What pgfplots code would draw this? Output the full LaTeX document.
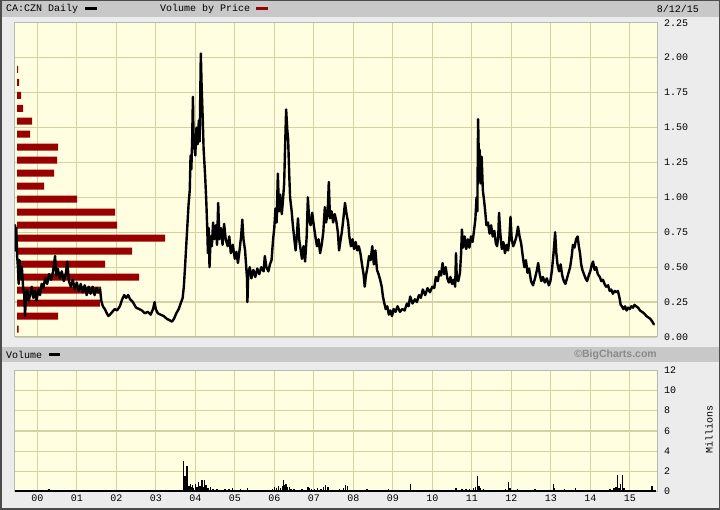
\documentclass[border=0pt]{standalone}
\usepackage{fontspec}
\setmainfont{Liberation Mono}
\newfontfamily\bcsans{Liberation Sans}
\usepackage{pgfplots}
\pgfplotsset{compat=1.18}
\definecolor{plotbg}{HTML}{FFFEE0}
\definecolor{gridc}{HTML}{D4D1A2}
\definecolor{outerbg}{HTML}{ECECEC}
\definecolor{hdr}{HTML}{C8C8C8}
\definecolor{vbpred}{HTML}{990000}
\definecolor{bcgray}{HTML}{8A8A8A}

\pgfplotstableread{
t p
1999.44 0.80
1999.45 0.62
1999.47 0.78
1999.49 0.58
1999.51 0.50
1999.53 0.38
1999.55 0.55
1999.58 0.42
1999.61 0.50
1999.64 0.36
1999.67 0.30
1999.69 0.15
1999.71 0.28
1999.74 0.34
1999.78 0.26
1999.82 0.30
1999.86 0.36
1999.90 0.28
1999.94 0.33
1999.98 0.26
2000.03 0.34
2000.07 0.30
2000.11 0.38
2000.15 0.35
2000.20 0.42
2000.25 0.38
2000.30 0.45
2000.35 0.41
2000.40 0.47
2000.45 0.58
2000.48 0.44
2000.52 0.49
2000.57 0.42
2000.62 0.47
2000.67 0.40
2000.72 0.45
2000.76 0.54
2000.80 0.40
2000.85 0.36
2000.90 0.41
2000.95 0.34
2001.00 0.39
2001.05 0.33
2001.10 0.38
2001.15 0.32
2001.20 0.37
2001.25 0.30
2001.30 0.36
2001.35 0.31
2001.40 0.36
2001.45 0.30
2001.50 0.35
2001.55 0.32
2001.59 0.34
2001.62 0.26
2001.66 0.22
2001.71 0.20
2001.76 0.17
2001.80 0.15
2001.84 0.16
2001.90 0.18
2001.96 0.20
2002.02 0.19
2002.09 0.22
2002.15 0.27
2002.20 0.30
2002.25 0.28
2002.30 0.30
2002.35 0.27
2002.42 0.25
2002.50 0.21
2002.58 0.20
2002.65 0.19
2002.72 0.17
2002.80 0.18
2002.87 0.16
2002.93 0.20
2002.97 0.25
2003.00 0.20
2003.05 0.17
2003.12 0.16
2003.20 0.15
2003.28 0.13
2003.35 0.12
2003.41 0.11
2003.46 0.13
2003.52 0.17
2003.58 0.20
2003.63 0.24
2003.68 0.28
2003.71 0.36
2003.74 0.50
2003.77 0.65
2003.80 0.80
2003.83 0.95
2003.86 1.05
2003.88 1.30
2003.90 1.20
2003.92 1.40
2003.94 1.72
2003.96 1.35
2003.98 1.45
2004.00 1.30
2004.03 1.50
2004.06 1.38
2004.09 1.55
2004.11 1.40
2004.14 2.03
2004.16 1.80
2004.19 1.55
2004.21 1.35
2004.23 1.25
2004.25 1.15
2004.28 0.96
2004.30 0.80
2004.32 0.60
2004.34 0.78
2004.36 0.50
2004.39 0.72
2004.42 0.65
2004.45 0.82
2004.48 0.70
2004.52 0.80
2004.55 0.66
2004.58 0.96
2004.61 0.70
2004.65 0.78
2004.69 0.66
2004.73 0.81
2004.77 0.70
2004.82 0.65
2004.86 0.72
2004.90 0.60
2004.95 0.66
2005.00 0.56
2005.04 0.61
2005.08 0.53
2005.12 0.62
2005.16 0.72
2005.19 0.84
2005.22 0.70
2005.26 0.62
2005.29 0.50
2005.31 0.42
2005.32 0.25
2005.34 0.45
2005.38 0.50
2005.42 0.42
2005.47 0.48
2005.52 0.43
2005.57 0.49
2005.62 0.45
2005.67 0.50
2005.73 0.47
2005.76 0.58
2005.80 0.50
2005.85 0.47
2005.89 0.52
2005.93 0.55
2005.97 0.70
2006.00 0.78
2006.03 0.92
2006.06 0.82
2006.09 1.17
2006.12 0.90
2006.15 1.02
2006.19 0.88
2006.22 0.98
2006.25 1.10
2006.27 1.32
2006.30 1.63
2006.33 1.48
2006.35 1.42
2006.38 1.15
2006.40 1.00
2006.44 0.90
2006.47 0.80
2006.50 0.72
2006.54 0.62
2006.57 0.72
2006.60 0.85
2006.63 0.70
2006.67 0.62
2006.70 0.56
2006.74 0.65
2006.78 0.54
2006.82 0.72
2006.85 1.00
2006.88 0.85
2006.92 0.80
2006.96 0.89
2007.00 0.80
2007.04 0.72
2007.08 0.65
2007.12 0.70
2007.16 0.60
2007.20 0.66
2007.24 0.75
2007.28 0.93
2007.31 0.82
2007.35 0.88
2007.38 1.11
2007.41 0.85
2007.45 0.90
2007.49 0.82
2007.53 0.88
2007.57 0.83
2007.61 0.75
2007.64 0.62
2007.67 0.68
2007.71 0.75
2007.75 0.85
2007.79 0.96
2007.83 0.88
2007.87 0.82
2007.90 0.72
2007.94 0.65
2007.98 0.70
2008.02 0.63
2008.06 0.68
2008.10 0.62
2008.14 0.65
2008.18 0.60
2008.22 0.52
2008.26 0.45
2008.29 0.36
2008.32 0.44
2008.36 0.50
2008.40 0.58
2008.44 0.55
2008.48 0.65
2008.52 0.52
2008.56 0.62
2008.60 0.48
2008.64 0.45
2008.68 0.41
2008.72 0.36
2008.75 0.29
2008.78 0.25
2008.82 0.20
2008.86 0.22
2008.90 0.16
2008.94 0.19
2008.98 0.15
2009.02 0.20
2009.07 0.18
2009.12 0.22
2009.18 0.18
2009.24 0.20
2009.30 0.19
2009.36 0.24
2009.40 0.22
2009.44 0.29
2009.50 0.24
2009.56 0.27
2009.61 0.25
2009.66 0.30
2009.71 0.28
2009.76 0.34
2009.82 0.30
2009.88 0.35
2009.94 0.32
2010.00 0.36
2010.05 0.35
2010.09 0.43
2010.14 0.40
2010.18 0.47
2010.22 0.44
2010.26 0.53
2010.30 0.45
2010.34 0.50
2010.38 0.42
2010.42 0.39
2010.46 0.43
2010.50 0.38
2010.54 0.41
2010.58 0.36
2010.60 0.60
2010.62 0.42
2010.66 0.40
2010.70 0.46
2010.73 0.60
2010.75 0.77
2010.78 0.64
2010.82 0.72
2010.86 0.63
2010.90 0.70
2010.94 0.64
2010.98 0.72
2011.02 0.68
2011.06 0.77
2011.09 0.84
2011.12 1.00
2011.14 0.90
2011.16 1.56
2011.18 1.25
2011.20 1.34
2011.22 1.10
2011.25 1.29
2011.28 1.05
2011.31 0.98
2011.34 0.90
2011.37 0.80
2011.41 0.82
2011.45 0.74
2011.49 0.80
2011.53 0.72
2011.57 0.76
2011.61 0.67
2011.64 0.65
2011.67 0.72
2011.69 0.89
2011.72 0.75
2011.76 0.63
2011.80 0.68
2011.84 0.60
2011.88 0.66
2011.92 0.62
2011.95 0.70
2011.98 0.86
2012.01 0.70
2012.05 0.65
2012.09 0.68
2012.13 0.72
2012.17 0.79
2012.21 0.72
2012.25 0.67
2012.29 0.58
2012.33 0.50
2012.37 0.55
2012.41 0.46
2012.45 0.49
2012.50 0.40
2012.55 0.37
2012.60 0.42
2012.65 0.48
2012.68 0.53
2012.72 0.45
2012.76 0.40
2012.80 0.43
2012.85 0.39
2012.90 0.42
2012.95 0.37
2012.99 0.40
2013.03 0.48
2013.07 0.60
2013.11 0.75
2013.14 0.60
2013.17 0.52
2013.21 0.47
2013.25 0.52
2013.29 0.44
2013.33 0.40
2013.37 0.38
2013.41 0.42
2013.45 0.46
2013.49 0.50
2013.53 0.58
2013.56 0.66
2013.60 0.64
2013.64 0.70
2013.68 0.72
2013.71 0.65
2013.74 0.60
2013.77 0.52
2013.80 0.48
2013.84 0.45
2013.88 0.42
2013.92 0.40
2013.96 0.44
2014.00 0.47
2014.04 0.52
2014.07 0.54
2014.11 0.48
2014.15 0.50
2014.19 0.45
2014.24 0.43
2014.28 0.40
2014.32 0.41
2014.36 0.38
2014.40 0.36
2014.45 0.37
2014.49 0.33
2014.53 0.34
2014.57 0.31
2014.62 0.33
2014.66 0.32
2014.70 0.33
2014.74 0.28
2014.77 0.23
2014.80 0.22
2014.84 0.20
2014.88 0.22
2014.92 0.19
2014.96 0.21
2015.00 0.20
2015.04 0.22
2015.08 0.21
2015.12 0.23
2015.16 0.22
2015.21 0.21
2015.26 0.19
2015.31 0.18
2015.36 0.17
2015.42 0.15
2015.47 0.14
2015.52 0.13
2015.57 0.11
2015.61 0.09
}\pricedata

\pgfplotstableread{
v p
1 1.917
2 1.824
4 1.731
6 1.638
15 1.545
13 1.452
41 1.359
40 1.266
37 1.173
27 1.080
60 0.987
98 0.894
100 0.801
148 0.708
115 0.615
88 0.522
122 0.429
84 0.336
83 0.243
41 0.150
1.5 0.057
}\vbpdata

\pgfplotstableread{
t v
2000.20 0.15
2000.30 0.25
2000.38 0.2
2000.55 0.1
2003.70 3.0
2003.72 1.15
2003.74 1.55
2003.76 0.8
2003.79 2.5
2003.81 0.9
2003.84 0.6
2003.87 0.8
2003.90 0.5
2003.93 0.7
2003.96 0.4
2004.00 0.8
2004.04 0.5
2004.09 1.0
2004.12 0.6
2004.17 1.15
2004.20 0.45
2004.23 1.15
2004.27 0.7
2004.32 0.35
2004.38 0.5
2004.45 0.25
2004.55 0.3
2004.65 0.2
2004.75 0.3
2004.85 0.25
2004.95 0.35
2005.05 0.2
2005.15 0.3
2005.25 0.2
2005.33 0.35
2005.45 0.15
2005.55 0.1
2005.70 0.15
2005.85 0.2
2005.95 0.3
2006.00 0.45
2006.05 0.35
2006.10 0.55
2006.15 0.4
2006.20 0.6
2006.23 1.15
2006.26 0.7
2006.30 0.8
2006.34 0.5
2006.38 0.45
2006.42 0.3
2006.50 0.25
2006.60 0.2
2006.70 0.3
2006.78 0.2
2006.85 0.45
2006.90 0.35
2006.95 0.3
2007.02 0.25
2007.10 0.4
2007.18 0.3
2007.25 0.5
2007.30 0.7
2007.36 0.45
2007.45 0.2
2007.55 0.15
2007.65 0.25
2007.75 0.35
2007.80 0.7
2007.85 0.6
2007.92 0.2
2008.05 0.15
2008.20 0.2
2008.35 0.3
2008.50 0.15
2008.70 0.2
2008.90 0.25
2009.00 0.2
2009.15 0.15
2009.30 0.2
2009.44 0.75
2009.55 0.15
2009.70 0.1
2009.85 0.2
2010.00 0.15
2010.15 0.2
2010.30 0.15
2010.45 0.2
2010.60 0.35
2010.75 0.3
2010.85 0.25
2010.95 0.3
2011.05 0.35
2011.10 0.45
2011.15 1.55
2011.18 0.6
2011.22 0.4
2011.30 0.3
2011.40 0.2
2011.55 0.15
2011.70 0.2
2011.85 0.25
2011.93 1.0
2011.97 0.35
2012.05 0.2
2012.15 0.3
2012.30 0.15
2012.45 0.2
2012.60 0.25
2012.75 0.2
2012.90 0.15
2013.06 0.8
2013.10 0.35
2013.20 0.2
2013.35 0.25
2013.50 0.2
2013.62 0.35
2013.75 0.2
2013.90 0.15
2014.05 0.2
2014.20 0.15
2014.35 0.2
2014.50 0.25
2014.60 0.35
2014.65 0.5
2014.69 1.6
2014.73 0.4
2014.77 0.8
2014.81 1.65
2014.85 0.35
2014.95 0.2
2015.10 0.15
2015.25 0.2
2015.40 0.15
2015.56 0.55
2015.62 0.2
}\voldata

\begin{document}
\begin{tikzpicture}[x=1pt,y=1pt]
\fill[outerbg] (0,0) rectangle (720,510);
\fill[hdr] (1.5,493) rectangle (718.5,508.5);
\fill[hdr] (1.5,148) rectangle (718.5,163);
\draw[gray!60!black, line width=1.5pt] (0.75,0.75) rectangle (719.25,509.25);
% header texts
\node[anchor=west, inner sep=0pt, font=\fontsize{10}{10}\selectfont] at (6,501) {CA:CZN Daily};
\fill[black] (85,499.5) rectangle (97,502.5);
\node[anchor=west, inner sep=0pt, font=\fontsize{10}{10}\selectfont] at (160,501) {Volume by Price};
\fill[vbpred] (256,499.5) rectangle (268,502.5);
\node[anchor=east, inner sep=0pt, font=\fontsize{10}{10}\selectfont] at (699,501) {8/12/15};
\node[anchor=west, inner sep=0pt, font=\fontsize{10}{10}\selectfont] at (6,155.5) {Volume};
\fill[black] (49,154) rectangle (60,157);
\node[anchor=east, inner sep=0pt, text=bcgray, font=\bcsans\bfseries\fontsize{10.5}{10.5}\selectfont] at (657,155.5) {©BigCharts.com};
\node[rotate=90, inner sep=0pt, font=\fontsize{10}{10}\selectfont] at (709,80) {Millions};

\pgfplotsset{
  panel/.style={
    anchor=south west, scale only axis, width=642.5pt,
    xmin=1999.423, xmax=2015.689,
  },
}
% price panel: background and grid
\begin{axis}[panel, at={(14.5pt,173pt)}, height=314.2pt,
  ymin=0, ymax=2.25,
  axis background/.style={fill=plotbg},
  grid=major, grid style={gridc, line width=1.2pt},
  xtick={2000,2001,2002,2003,2004,2005,2006,2007,2008,2009,2010,2011,2012,2013,2014,2015},
  xticklabels={},
  ytick={0,0.25,0.5,0.75,1,1.25,1.5,1.75,2,2.25},
  yticklabel pos=right,
  major tick length=0pt,
  axis line style={gray!55, line width=1pt},
  yticklabel style={anchor=west, xshift=3.5pt, font=\fontsize{10}{10}\selectfont,
    /pgf/number format/.cd, fixed, fixed zerofill, precision=2, assume math mode=true},
]
\addplot[draw=none] coordinates {(2000,0)};
\end{axis}
% volume by price bars
\begin{axis}[at={(14.5pt,173pt)}, anchor=south west, scale only axis,
  width=642.5pt, height=314.2pt, hide axis,
  xmin=-2.5, xmax=640, ymin=0, ymax=2.25, xbar, bar width=7pt]
\addplot[fill=vbpred, draw=none] table[x=v, y=p] {\vbpdata};
\end{axis}
% price line
\begin{axis}[panel, at={(14.5pt,173pt)}, height=314.2pt, hide axis,
  ymin=0, ymax=2.25]
\addplot[black, line width=2.4pt, line join=round, line cap=round] table[x=t, y=p] {\pricedata};
\end{axis}
% volume panel
\begin{axis}[panel, at={(14.5pt,18.3pt)}, height=121.5pt,
  ymin=0, ymax=12,
  axis background/.style={fill=plotbg},
  grid=major, grid style={gridc, line width=1.2pt},
  xtick={2000,2001,2002,2003,2004,2005,2006,2007,2008,2009,2010,2011,2012,2013,2014,2015},
  xticklabels={00,01,02,03,04,05,06,07,08,09,10,11,12,13,14,15},
  ytick={0,2,4,6,8,10,12},
  yticklabel pos=right,
  major tick length=0pt,
  axis line style={gray!55, line width=1pt},
  yticklabel style={anchor=west, xshift=3.5pt, font=\fontsize{10}{10}\selectfont,
    /pgf/number format/assume math mode=true},
  xticklabel style={font=\fontsize{10}{10}\selectfont},
]
\addplot[ycomb, black, line width=1.3pt] table[x=t, y=v] {\voldata};
\addplot[black, line width=2pt] coordinates {(1999.43,0.1) (2015.66,0.1)};
\end{axis}
\end{tikzpicture}
\end{document}
